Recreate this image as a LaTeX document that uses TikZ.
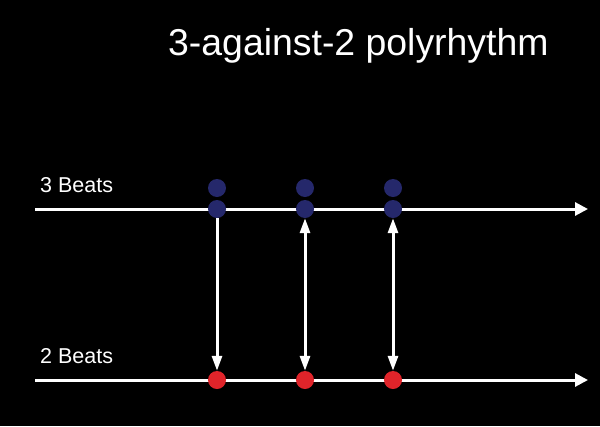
\documentclass[tikz,border=0pt]{standalone}
\usepackage{fontspec}
\setmainfont{Liberation Sans}
\usepackage{xcolor}
\usetikzlibrary{arrows.meta, positioning}
\definecolor{beatblue}{HTML}{25286B}
\definecolor{beatred}{HTML}{E0242A}

\begin{document}
\begin{tikzpicture}[x=1pt, y=-1pt, node distance=88pt,
	line/.style={white, line width=3pt},
	hline/.style={line, -{Triangle[length=13pt, width=13pt]}},
	vline/.style={line, -{Triangle[length=15pt, width=10pt]}},
	dline/.style={line, {Triangle[length=15pt, width=10pt]}-{Triangle[length=15pt, width=10pt]}},
	bluedot/.style={circle, fill=beatblue, inner sep=0pt, minimum size=18pt},
	reddot/.style={circle, fill=beatred, inner sep=0pt, minimum size=18pt},
	label/.style={white, anchor=base west, inner sep=0pt, font=\fontsize{21.5}{24}\selectfont}]
		\useasboundingbox[fill=black] (0,0) rectangle (600,426);
		
		\node[white, anchor=base west, inner sep=0pt, font=\fontsize{37.4}{42}\selectfont] (title) at (168,55) {3-against-2 polyrhythm};
		
		\node[label] (l3) at (40,192) {3 Beats};
		\node[label] (l2) at (40,363) {2 Beats};
		
		\coordinate (s3) at (35,209);
		\coordinate (e3) at (588,209);
		\coordinate (s2) at (35,380);
		\coordinate (e2) at (588,380);
		\draw[hline] (s3) -- (e3);
		\draw[hline] (s2) -- (e2);
		
		\node[bluedot] (b1) at (217,209) {};
		\node[bluedot, right of = b1] (b2) {};
		\node[bluedot, right of = b2] (b3) {};
		\node[bluedot] (t1) at (217,188) {};
		\node[bluedot, right of = t1] (t2) {};
		\node[bluedot, right of = t2] (t3) {};
		
		\node[reddot] (r1) at (217,380) {};
		\node[reddot, right of = r1] (r2) {};
		\node[reddot, right of = r2] (r3) {};
		
		\draw[vline] (b1) -- (r1);
		\draw[dline] (b2) -- (r2);
		\draw[dline] (b3) -- (r3);
		
\end{tikzpicture}
\end{document}
